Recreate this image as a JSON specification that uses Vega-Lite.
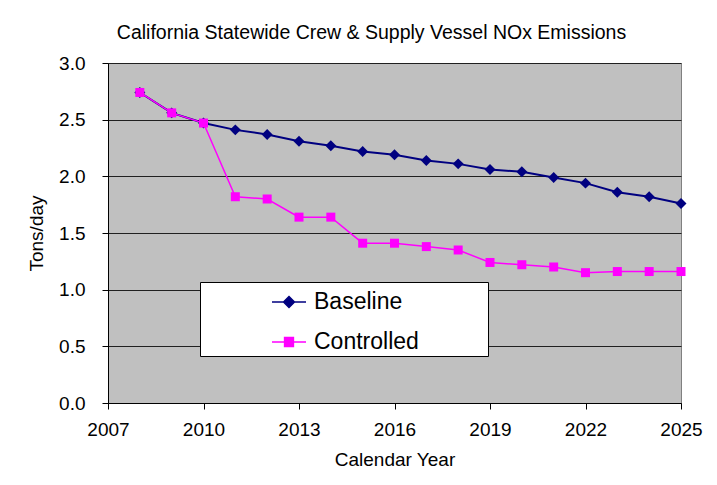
{
  "$schema": "https://vega.github.io/schema/vega-lite/v6.json",
  "autosize": {"type": "none"},
  "width": 573,
  "height": 340,
  "padding": {"left": 108, "top": 63, "right": 36, "bottom": 82},
  "background": "white",
  "title": {
    "text": "California Statewide Crew & Supply Vessel NOx Emissions",
    "font": "Liberation Sans",
    "fontSize": 19.5,
    "fontWeight": "normal",
    "color": "black",
    "anchor": "middle",
    "dx": -23,
    "offset": 11
  },
  "data": {
    "values": [
      {"year": 2008, "series": "Baseline", "tons": 2.74},
      {"year": 2009, "series": "Baseline", "tons": 2.56},
      {"year": 2010, "series": "Baseline", "tons": 2.47},
      {"year": 2011, "series": "Baseline", "tons": 2.41},
      {"year": 2012, "series": "Baseline", "tons": 2.37},
      {"year": 2013, "series": "Baseline", "tons": 2.31},
      {"year": 2014, "series": "Baseline", "tons": 2.27},
      {"year": 2015, "series": "Baseline", "tons": 2.22},
      {"year": 2016, "series": "Baseline", "tons": 2.19},
      {"year": 2017, "series": "Baseline", "tons": 2.14},
      {"year": 2018, "series": "Baseline", "tons": 2.11},
      {"year": 2019, "series": "Baseline", "tons": 2.06},
      {"year": 2020, "series": "Baseline", "tons": 2.04},
      {"year": 2021, "series": "Baseline", "tons": 1.99},
      {"year": 2022, "series": "Baseline", "tons": 1.94},
      {"year": 2023, "series": "Baseline", "tons": 1.86},
      {"year": 2024, "series": "Baseline", "tons": 1.82},
      {"year": 2025, "series": "Baseline", "tons": 1.76},
      {"year": 2008, "series": "Controlled", "tons": 2.74},
      {"year": 2009, "series": "Controlled", "tons": 2.56},
      {"year": 2010, "series": "Controlled", "tons": 2.47},
      {"year": 2011, "series": "Controlled", "tons": 1.82},
      {"year": 2012, "series": "Controlled", "tons": 1.80},
      {"year": 2013, "series": "Controlled", "tons": 1.64},
      {"year": 2014, "series": "Controlled", "tons": 1.64},
      {"year": 2015, "series": "Controlled", "tons": 1.41},
      {"year": 2016, "series": "Controlled", "tons": 1.41},
      {"year": 2017, "series": "Controlled", "tons": 1.38},
      {"year": 2018, "series": "Controlled", "tons": 1.35},
      {"year": 2019, "series": "Controlled", "tons": 1.24},
      {"year": 2020, "series": "Controlled", "tons": 1.22},
      {"year": 2021, "series": "Controlled", "tons": 1.20},
      {"year": 2022, "series": "Controlled", "tons": 1.15},
      {"year": 2023, "series": "Controlled", "tons": 1.16},
      {"year": 2024, "series": "Controlled", "tons": 1.16},
      {"year": 2025, "series": "Controlled", "tons": 1.16}
    ]
  },
  "encoding": {
    "x": {
      "field": "year",
      "type": "quantitative",
      "title": "Calendar Year",
      "scale": {"domain": [2007, 2025], "nice": false, "zero": false},
      "axis": {
        "values": [2007, 2010, 2013, 2016, 2019, 2022, 2025],
        "format": "d",
        "grid": false,
        "labelFlush": false,
        "domainColor": "black",
        "tickColor": "black",
        "tickSize": 6,
        "labelPadding": 11,
        "titlePadding": 11
      }
    },
    "y": {
      "field": "tons",
      "type": "quantitative",
      "title": "Tons/day",
      "scale": {"domain": [0, 3], "nice": false},
      "axis": {
        "values": [0, 0.5, 1, 1.5, 2, 2.5, 3],
        "format": ".1f",
        "grid": true,
        "labelFlush": false,
        "gridColor": "#202020",
        "gridWidth": 1,
        "gridOpacity": 1,
        "domainColor": "black",
        "tickColor": "black",
        "tickSize": 6,
        "labelPadding": 17,
        "titlePadding": 12
      }
    },
    "color": {
      "field": "series",
      "type": "nominal",
      "scale": {"domain": ["Baseline", "Controlled"], "range": ["#000080", "#FF00FF"]},
      "legend": {
        "title": ".",
        "titleOrient": "right",
        "titleFontSize": 2,
        "titleColor": "white",
        "titlePadding": 66,
        "orient": "none",
        "legendX": 92,
        "legendY": 219,
        "direction": "vertical",
        "fillColor": "white",
        "strokeColor": "black",
        "padding": 2,
        "rowPadding": 10,
        "symbolSize": 1156,
        "symbolOffset": 69,
        "symbolStrokeWidth": 1.5,
        "labelOffset": 7,
        "labelFontSize": 23,
        "labelFont": "Liberation Sans",
        "labelColor": "black",
        "labelLimit": 400,
        "encode": {
          "symbols": {
            "update": {
              "shape": {"signal": "datum.value === 'Baseline' ? 'M-1,0L1,0M0,-0.32L0.32,0L0,0.32L-0.32,0Z' : 'M-1,0L1,0M-0.26,-0.26L0.26,-0.26L0.26,0.26L-0.26,0.26Z'"},
              "fill": {"signal": "datum.value === 'Baseline' ? '#000080' : '#FF00FF'"},
              "stroke": {"signal": "datum.value === 'Baseline' ? '#000080' : '#FF00FF'"}
            }
          }
        }
      }
    }
  },
  "layer": [
    {
      "transform": [{"filter": "datum.series === 'Baseline'"}],
      "mark": {"type": "line", "strokeWidth": 2}
    },
    {
      "transform": [{"filter": "datum.series === 'Baseline'"}],
      "mark": {"type": "point", "shape": "diamond", "filled": true, "size": 120, "opacity": 1}
    },
    {
      "transform": [{"filter": "datum.series === 'Controlled'"}],
      "mark": {"type": "line", "strokeWidth": 1.5}
    },
    {
      "transform": [{"filter": "datum.series === 'Controlled'"}],
      "mark": {"type": "point", "shape": "square", "filled": true, "size": 81, "opacity": 1}
    }
  ],
  "config": {
    "view": {"fill": "#C0C0C0", "stroke": "#808080", "strokeWidth": 1},
    "axis": {
      "labelFont": "Liberation Sans",
      "labelFontSize": 19,
      "labelColor": "black",
      "titleFont": "Liberation Sans",
      "titleFontSize": 19,
      "titleFontWeight": "normal",
      "titleColor": "black"
    }
  }
}
